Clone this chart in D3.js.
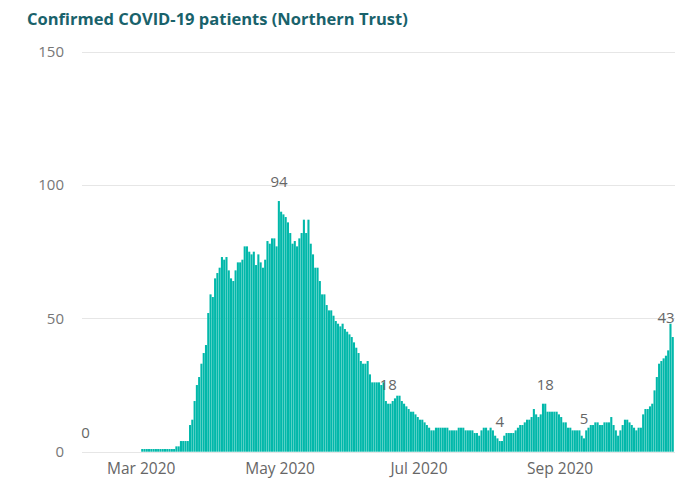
<!DOCTYPE html>
<html><head><meta charset="utf-8">
<script src="https://cdn.jsdelivr.net/npm/d3@7"></script>
<style>body{margin:0;background:#fff;overflow:hidden}</style>
</head><body>
<svg id="chart" width="677" height="483"></svg>
<script>
// ---- data (daily confirmed COVID-19 inpatients) ----
const firstDate = "2020-02-05";
const febValues = [0,0,0,0,0,0,0,0,0,0,0,0,0,0,0,0,0,0,0,0,0,0,0,0,0];
const marValues = [1,1,1,1,1,1,1,1,1,1,1,1,1,1,1,2,2,4,4,4,4,10,12,19,25,28,33,37,40,52,59];
const aprValues = [58,65,67,69,73,72,73,68,65,64,68,71,71,72,77,77,75,74,75,70,74,71,69,72,79,78,80,80,77,94];
const mayValues = [90,89,88,86,82,78,79,77,80,82,87,82,87,78,74,69,69,64,59,59,55,53,53,51,49,48,47,48,46,45,44];
const junValues = [43,41,39,37,34,33,33,34,29,26,26,26,26,25,26,19,18,18,19,20,21,21,19,18,17,16,15,15,14,13];
const julValues = [12,12,11,10,9,8,8,9,9,9,9,9,9,8,8,8,8,9,9,9,8,8,8,8,7,7,6,8,9,9,8];
const augValues = [9,8,6,5,4,4,6,7,7,7,7,8,9,10,10,11,12,12,13,16,14,13,14,18,18,15,15,15,15,15,14];
const sepValues = [13,11,11,9,9,8,8,8,8,6,5,8,9,10,10,11,11,10,10,11,11,11,13,10,8,6,8,10,12,12];
const octValues = [11,10,9,8,9,9,14,16,16,17,18,23,28,33,34,35,36,38,48,43];

const labelDates = ["2020-02-05","2020-04-30","2020-06-17","2020-08-05","2020-08-25","2020-09-11","2020-10-20"];
const yTicks = [0, 50, 100, 150];
const xTickDates = ["2020-03-01","2020-05-01","2020-07-01","2020-09-01"];
const xTickLabels = ["Mar 2020","May 2020","Jul 2020","Sep 2020"];
const titleText = "Confirmed COVID-19 patients (Northern Trust)";
const domainDates = ["2020-02-04","2020-10-21"];

// ---- build table ----
const parse = d3.timeParse("%Y-%m-%d");
const allValues = [].concat(febValues, marValues, aprValues, mayValues, junValues, julValues, augValues, sepValues, octValues);
const start = parse(firstDate);
const data = allValues.map((v, i) => ({ date: d3.timeDay.offset(start, i), value: v }));

// ---- layout ----
const svg = d3.select("#chart");
const plotLeft = 82, plotRight = 674, yBottom = 451.7, yTop = 51.7;
const x = d3.scaleTime().domain(domainDates.map(parse)).range([plotLeft, plotRight]);
const y = d3.scaleLinear().domain([0, 150]).range([yBottom, yTop]);
const fontFamily = "'Open Sans', 'Noto Sans', sans-serif";

// title
const title = svg.append("text")
  .attr("x", 27).attr("y", 24.5)
  .attr("fill", "#19626b")
  .attr("font-family", fontFamily)
  .attr("font-weight", 700)
  .attr("font-size", 16)
  .text(titleText);
const tl = title.node().getComputedTextLength();
title.attr("font-size", 16 * 381 / tl);

// gridlines
svg.append("g").selectAll("line").data(yTicks).join("line")
  .attr("x1", plotLeft).attr("x2", 675)
  .attr("y1", d => Math.round(y(d)) + 0.5).attr("y2", d => Math.round(y(d)) + 0.5)
  .attr("stroke", "#e6e6e6").attr("stroke-width", 1);

// y axis labels
svg.append("g").selectAll("text").data(yTicks).join("text")
  .attr("x", 64).attr("y", d => y(d))
  .attr("dy", "0.36em")
  .attr("text-anchor", "end")
  .attr("fill", "#777")
  .attr("font-family", fontFamily)
  .attr("font-size", 15)
  .text(d => d);

// x axis labels
svg.append("g").selectAll("text").data(xTickDates).join("text")
  .attr("x", d => x(parse(d)))
  .attr("y", 474)
  .attr("text-anchor", "middle")
  .attr("fill", "#666")
  .attr("font-family", fontFamily)
  .attr("font-size", 15.5)
  .text((d, i) => xTickLabels[i]);

// bars
svg.append("g").selectAll("rect").data(data.filter(d => d.value > 0)).join("rect")
  .attr("x", d => x(d.date))
  .attr("width", d => Math.max(0.5, x(d3.timeDay.offset(d.date, 1)) - x(d.date) - 0.2))
  .attr("y", d => y(d.value))
  .attr("height", d => y(0) - y(d.value))
  .attr("fill", "#01B8AA");

// data labels
const labelled = labelDates.map(s => data.find(d => +d.date === +parse(s)));
svg.append("g").selectAll("text").data(labelled).join("text")
  .attr("x", d => {
    const cx = (x(d.date) + x(d3.timeDay.offset(d.date, 1))) / 2;
    return Math.min(cx, 675 - 9);
  })
  .attr("y", d => y(d.value) - 14)
  .attr("text-anchor", "middle")
  .attr("fill", "#666")
  .attr("font-family", fontFamily)
  .attr("font-size", 15)
  .text(d => d.value);
</script>
</body></html>
